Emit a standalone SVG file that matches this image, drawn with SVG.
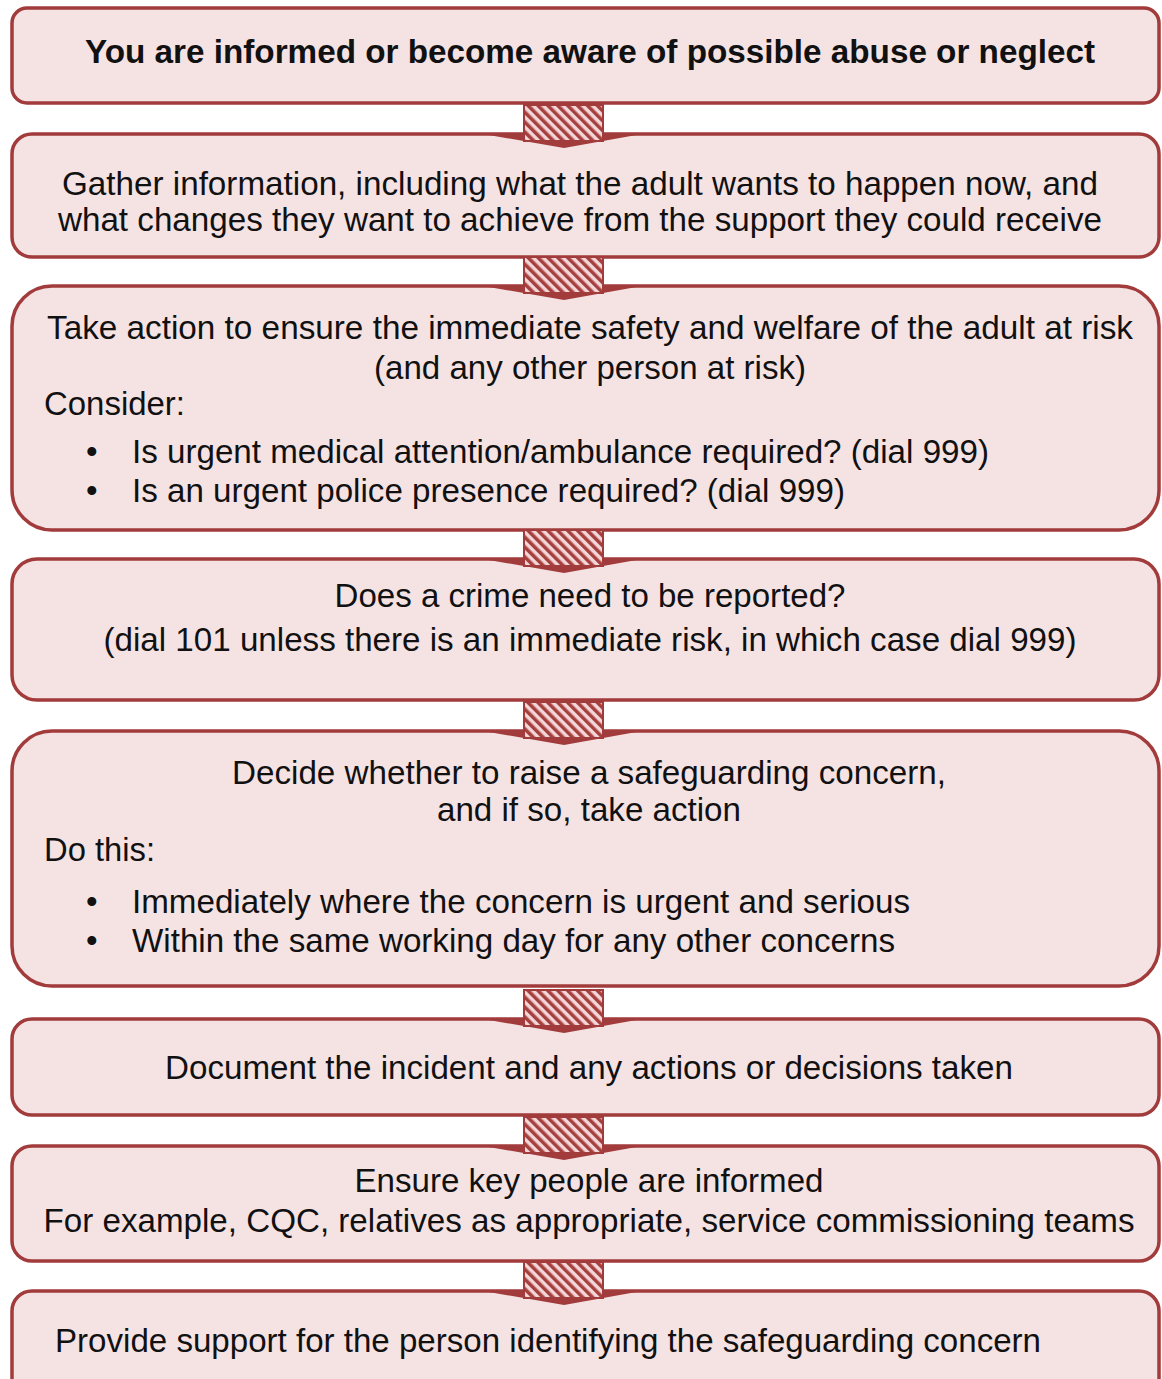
<svg xmlns="http://www.w3.org/2000/svg" width="1162" height="1379" viewBox="0 0 1162 1379">
<defs>
<pattern id="hatch" patternUnits="userSpaceOnUse" width="7" height="7" patternTransform="rotate(-45)">
<rect width="7" height="7" fill="#f3d6d8"/>
<rect width="3.5" height="7" fill="#a6403f"/>
</pattern>
<g id="arrow">
<polygon points="-81,0 78,0 0,14" fill="#a23b3b"/>
<rect x="-40" y="-29" width="79" height="36" fill="url(#hatch)" stroke="#a23b3b" stroke-width="2"/>
</g>
</defs>
<style>
.box{fill:#f5e3e4;stroke:#a23b3b;stroke-width:3.5}
text{font-family:"Liberation Sans",Arial,sans-serif;font-size:33px;fill:#111}
.c{text-anchor:middle}
.b{font-weight:bold}
</style>
<rect width="1162" height="1379" fill="#ffffff"/>
<g id="n1">
<rect class="box" x="12" y="8" width="1147" height="95" rx="15"/>
<text class="c b" x="590" y="63" textLength="1010" lengthAdjust="spacingAndGlyphs">You are informed or become aware of possible abuse or neglect</text>
</g>
<g id="n2">
<rect class="box" x="12" y="134" width="1147" height="123" rx="20"/>
<text class="c" x="580" y="195" textLength="1036" lengthAdjust="spacingAndGlyphs">Gather information, including what the adult wants to happen now, and</text>
<text class="c" x="580" y="231" textLength="1044" lengthAdjust="spacingAndGlyphs">what changes they want to achieve from the support they could receive</text>
</g>
<g id="n3">
<rect class="box" x="12" y="286" width="1147" height="244" rx="40"/>
<text class="c" x="590" y="339" textLength="1086" lengthAdjust="spacingAndGlyphs">Take action to ensure the immediate safety and welfare of the adult at risk</text>
<text class="c" x="590" y="379" textLength="432" lengthAdjust="spacingAndGlyphs">(and any other person at risk)</text>
<text x="44" y="415" textLength="141" lengthAdjust="spacingAndGlyphs">Consider:</text>
<text x="86" y="463">•</text>
<text x="132" y="463" textLength="857" lengthAdjust="spacingAndGlyphs">Is urgent medical attention/ambulance required? (dial 999)</text>
<text x="86" y="502">•</text>
<text x="132" y="502" textLength="713" lengthAdjust="spacingAndGlyphs">Is an urgent police presence required? (dial 999)</text>
</g>
<g id="n4">
<rect class="box" x="12" y="559" width="1147" height="141" rx="25"/>
<text class="c" x="590" y="607" textLength="511" lengthAdjust="spacingAndGlyphs">Does a crime need to be reported?</text>
<text class="c" x="590" y="651" textLength="973" lengthAdjust="spacingAndGlyphs">(dial 101 unless there is an immediate risk, in which case dial 999)</text>
</g>
<g id="n5">
<rect class="box" x="12" y="731" width="1147" height="255" rx="40"/>
<text class="c" x="589" y="784" textLength="714" lengthAdjust="spacingAndGlyphs">Decide whether to raise a safeguarding concern,</text>
<text class="c" x="589" y="821" textLength="304" lengthAdjust="spacingAndGlyphs">and if so, take action</text>
<text x="44" y="861" textLength="111" lengthAdjust="spacingAndGlyphs">Do this:</text>
<text x="86" y="913">•</text>
<text x="132" y="913" textLength="778" lengthAdjust="spacingAndGlyphs">Immediately where the concern is urgent and serious</text>
<text x="86" y="952">•</text>
<text x="132" y="952" textLength="763" lengthAdjust="spacingAndGlyphs">Within the same working day for any other concerns</text>
</g>
<g id="n6">
<rect class="box" x="12" y="1019" width="1147" height="96" rx="20"/>
<text class="c" x="589" y="1079" textLength="848" lengthAdjust="spacingAndGlyphs">Document the incident and any actions or decisions taken</text>
</g>
<g id="n7">
<rect class="box" x="12" y="1146" width="1147" height="115" rx="20"/>
<text class="c" x="589" y="1192" textLength="469" lengthAdjust="spacingAndGlyphs">Ensure key people are informed</text>
<text class="c" x="589" y="1232" textLength="1091" lengthAdjust="spacingAndGlyphs">For example, CQC, relatives as appropriate, service commissioning teams</text>
</g>
<g id="n8">
<rect class="box" x="12" y="1291" width="1147" height="120" rx="20"/>
<text x="55" y="1352" textLength="986" lengthAdjust="spacingAndGlyphs">Provide support for the person identifying the safeguarding concern</text>
</g>
<g id="connectors">
<use href="#arrow" x="564" y="134"/>
<use href="#arrow" x="564" y="286"/>
<use href="#arrow" x="564" y="559"/>
<use href="#arrow" x="564" y="731"/>
<use href="#arrow" x="564" y="1019"/>
<use href="#arrow" x="564" y="1146"/>
<use href="#arrow" x="564" y="1291"/>
</g>
</svg>
